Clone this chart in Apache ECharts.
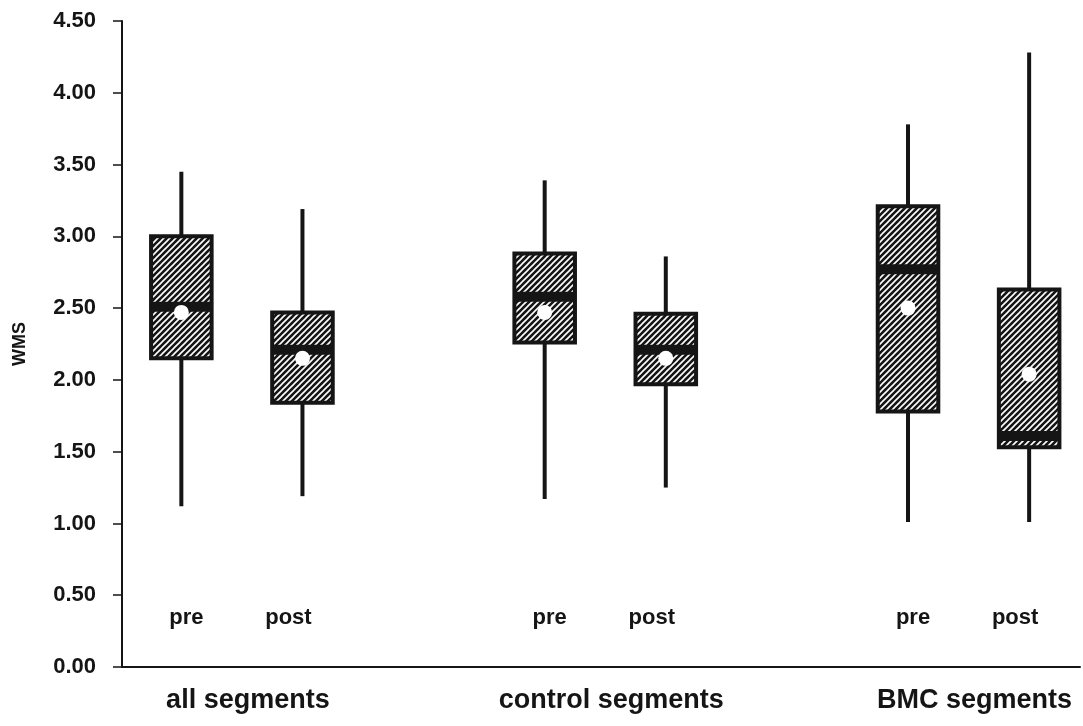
<!DOCTYPE html>
<html>
<head>
<meta charset="utf-8">
<script src="https://cdn.jsdelivr.net/npm/echarts@6/dist/echarts.min.js"></script>
<style>
html,body{margin:0;padding:0;background:#fff;}
#chart{width:1083px;height:726px;}
</style>
</head>
<body>
<div id="chart"></div>
<script>
// ---- data ----
const groups = ['all segments', 'control segments', 'BMC segments'];
const phases = ['pre', 'post'];
const slot = [0, 1, 3, 4, 6, 7];           // x slot of each box (pre/post per group)
const boxGroup = [0, 0, 1, 1, 2, 2];
const boxPhase = [0, 1, 0, 1, 0, 1];
const whiskerLow  = [1.12, 1.19, 1.17, 1.25, 1.01, 1.01];
const q1          = [2.15, 1.84, 2.26, 1.97, 1.78, 1.53];
const median      = [2.51, 2.21, 2.58, 2.21, 2.77, 1.61];
const q3          = [3.00, 2.47, 2.88, 2.46, 3.21, 2.63];
const whiskerHigh = [3.45, 3.19, 3.39, 2.86, 3.78, 4.28];
const mean        = [2.47, 2.15, 2.47, 2.15, 2.50, 2.04];
const yTicks = [0, 0.5, 1, 1.5, 2, 2.5, 3, 3.5, 4, 4.5];

// ---- hatch pattern ----
function makeHatch() {
  const c = document.createElement('canvas');
  c.width = 6; c.height = 6;
  const g = c.getContext('2d');
  g.fillStyle = '#151515';
  g.fillRect(0, 0, 6, 6);
  g.strokeStyle = '#ffffff';
  g.lineWidth = 1.6;
  g.beginPath();
  g.moveTo(0, 6); g.lineTo(6, 0);
  g.moveTo(-1, 1); g.lineTo(1, -1);
  g.moveTo(5, 7); g.lineTo(7, 5);
  g.stroke();
  return c;
}
const hatch = { image: makeHatch(), repeat: 'repeat' };
const INK = '#151515';
const FONT = "'Liberation Sans', Arial, Helvetica, sans-serif";

const boxData = slot.map((s, i) => [s, whiskerLow[i], q1[i], median[i], q3[i], whiskerHigh[i], mean[i]]);
const phaseLabelData = slot.map((s, i) => [s, boxPhase[i]]);
const groupLabelData = groups.map((g, gi) => {
  const xs = slot.filter((s, i) => boxGroup[i] === gi);
  return [(Math.min(...xs) + Math.max(...xs)) / 2, gi];
});

function renderBox(params, api) {
  const x = api.value(0);
  const pLo = api.coord([x, api.value(1)]);
  const pQ1 = api.coord([x, api.value(2)]);
  const pMed = api.coord([x, api.value(3)]);
  const pQ3 = api.coord([x, api.value(4)]);
  const pHi = api.coord([x, api.value(5)]);
  const pMean = api.coord([x, api.value(6)]);
  const cx = pLo[0];
  const w = api.size([0.5, 0])[0];
  return {
    type: 'group',
    children: [
      { type: 'line', shape: { x1: cx, y1: pHi[1], x2: cx, y2: pQ3[1] }, style: { stroke: INK, lineWidth: 4 } },
      { type: 'line', shape: { x1: cx, y1: pQ1[1], x2: cx, y2: pLo[1] }, style: { stroke: INK, lineWidth: 4 } },
      { type: 'rect', shape: { x: cx - w / 2, y: pQ3[1], width: w, height: pQ1[1] - pQ3[1] },
        style: { fill: hatch, stroke: INK, lineWidth: 4 } },
      { type: 'rect', shape: { x: cx - w / 2, y: pMed[1] - 5, width: w, height: 10 }, style: { fill: INK } },
      { type: 'circle', shape: { cx: cx, cy: pMean[1], r: 7.5 }, style: { fill: '#ffffff' } }
    ]
  };
}

function renderPhaseLabel(params, api) {
  const ph = api.value(1);
  const p = api.coord([api.value(0), 0.34]);
  return {
    type: 'text',
    x: p[0] + (ph === 0 ? 5 : -14),
    y: p[1],
    style: { text: phases[ph], fill: INK, font: 'bold 22px ' + FONT, align: 'center', verticalAlign: 'middle' }
  };
}

function renderGroupLabel(params, api) {
  const gi = api.value(1);
  const p = api.coord([api.value(0), 0]);
  return {
    type: 'text',
    x: p[0] + 6,
    y: p[1] + 34,
    style: { text: groups[gi], fill: INK, font: 'bold 27px ' + FONT, align: 'center', verticalAlign: 'middle' }
  };
}

const chart = echarts.init(document.getElementById('chart'), null, { renderer: 'canvas' });
chart.setOption({
  animation: false,
  backgroundColor: '#ffffff',
  grid: { left: 122, right: 3, top: 21, bottom: 59, containLabel: false },
  xAxis: {
    type: 'value', min: -0.49, max: 7.42,
    axisLine: { show: true, onZero: false, lineStyle: { color: INK, width: 2 } },
    axisTick: { show: false }, axisLabel: { show: false }, splitLine: { show: false }
  },
  yAxis: {
    type: 'value', min: 0, max: 4.5, interval: 0.5,
    name: 'WMS', nameLocation: 'middle', nameGap: 93,
    nameTextStyle: { fontFamily: FONT, fontWeight: 'bold', fontSize: 18, color: INK },
    axisLine: { show: true, onZero: false, lineStyle: { color: INK, width: 2 } },
    axisTick: { show: true, length: 9, lineStyle: { color: INK, width: 1.5 } },
    axisLabel: {
      margin: 26, fontFamily: FONT, fontWeight: 'bold', fontSize: 22, color: INK,
      customValues: yTicks,
      formatter: v => Number(v).toFixed(2)
    },
    splitLine: { show: false }
  },
  series: [
    { type: 'custom', name: 'boxes', renderItem: renderBox, data: boxData, clip: false,
      encode: { x: 0, y: [1, 2, 3, 4, 5, 6] } },
    { type: 'custom', name: 'phaseLabels', renderItem: renderPhaseLabel, data: phaseLabelData, clip: false,
      encode: { x: 0 }, silent: true },
    { type: 'custom', name: 'groupLabels', renderItem: renderGroupLabel, data: groupLabelData, clip: false,
      encode: { x: 0 }, silent: true }
  ]
});
</script>
</body>
</html>
